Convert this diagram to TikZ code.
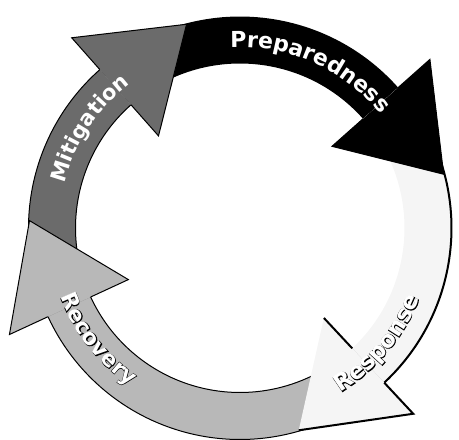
\documentclass[tikz,border=0pt]{standalone}
\usepackage{fontspec}
\setmainfont{DejaVu Sans}
\newfontfamily\ringfont{DejaVu Sans Bold}
\newfontfamily\ringedge{DejaVu Sans Bold}[FakeBold=4]
\usetikzlibrary{calc, decorations.text}
\definecolor{mitgray}{gray}{0.42}
\definecolor{recgray}{gray}{0.72}
\definecolor{resgray}{gray}{0.96}

\begin{document}
\begin{tikzpicture}[x=1pt, y=1pt, line join=miter,
        rim/.style={draw=black, line width=1pt},
        resrim/.style={draw=black, line width=2pt},
        arctext/.style={decorate, decoration={text along path, text align=center, text={#1}}}]
    \useasboundingbox (0,0) rectangle (459,440);
    \begin{scope}[shift={(240,212)}]
        % ring bodies
        \fill[black] (131.5:211.5) arc[start angle=131.5, end angle=41.6, radius=211.5]
            -- (41.6:164.5) arc[start angle=41.6, end angle=131.5, radius=164.5] -- cycle;
        \fill[resgray] (41.6:211.5) arc[start angle=41.6, end angle=-47, radius=211.5]
            -- (-47:164.5) arc[start angle=-47, end angle=41.6, radius=164.5] -- cycle;
        \fill[recgray] (-47:211.5) arc[start angle=-47, end angle=-155.2, radius=211.5]
            -- (-155.2:164.5) arc[start angle=-155.2, end angle=-47, radius=164.5] -- cycle;
        \fill[mitgray] (204.8:211.5) arc[start angle=204.8, end angle=131.5, radius=211.5]
            -- (131.5:164.5) arc[start angle=131.5, end angle=204.8, radius=164.5] -- cycle;
        \draw[resrim] (41.6:211.5) arc[start angle=41.6, end angle=-47, radius=211.5];
        \draw[rim] (-47:211.5) arc[start angle=-47, end angle=-155.2, radius=211.5];
        \draw[rim] (-47:164.5) arc[start angle=-47, end angle=-155.2, radius=164.5];
        \draw[rim] (204.8:211.5) arc[start angle=204.8, end angle=131.5, radius=211.5];
        \draw[rim] (204.8:164.5) arc[start angle=204.8, end angle=131.5, radius=164.5];

        % arrow heads
        \path (41.6:188) ++(-48.4:95) coordinate (prep tip);
        \path (-47:188) ++(-137:95) coordinate (res tip);
        \path (204.8:188) ++(114.8:95) coordinate (rec tip);
        \path (131.5:188) ++(41.5:95) coordinate (mit tip);
        \filldraw[fill=black, rim] (41.6:164.5) -- (41.6:123) -- (prep tip) -- (41.6:254) -- (41.6:211.5);
        \fill[resgray] (-47:164.5) -- (-47:123) -- (res tip) -- (-47:254) -- (-47:211.5) -- cycle;
        \draw[resrim] (-47:211.5) -- (-47:254) -- (res tip);
        \draw[resrim] (-47:164.5) -- (-47:123);
        \filldraw[fill=recgray, rim] (204.8:164.5) -- (204.8:123) -- (rec tip) -- (204.8:254) -- (204.8:211.5);
        \filldraw[fill=mitgray, rim] (131.5:164.5) -- (131.5:123) -- (mit tip) -- (131.5:254) -- (131.5:211.5);

        % labels
        \path[arctext={|\ringfont\fontsize{22}{26}\selectfont\color{white}|Preparedness}]
            (106:181) arc[start angle=106, end angle=26, radius=181];
        \path[arctext={|\ringfont\fontsize{21}{25}\selectfont\color{white}|Mitigation}]
            (186.5:181) arc[start angle=186.5, end angle=106.5, radius=181];
        \path[arctext={|\ringedge\fontsize{22}{26}\selectfont\color{black}|Recovery}]
            (178:192.5) arc[start angle=178, end angle=258, radius=192.5];
        \path[arctext={|\ringfont\fontsize{22}{26}\selectfont\color{white}|Recovery}]
            (178:192.5) arc[start angle=178, end angle=258, radius=192.5];
        \path[arctext={|\ringedge\fontsize{23}{27}\selectfont\color{black}|Response}]
            (-80:193) arc[start angle=-80, end angle=0, radius=193];
        \path[arctext={|\ringfont\fontsize{23}{27}\selectfont\color{white}|Response}]
            (-80:193) arc[start angle=-80, end angle=0, radius=193];
    \end{scope}
\end{tikzpicture}
\end{document}
